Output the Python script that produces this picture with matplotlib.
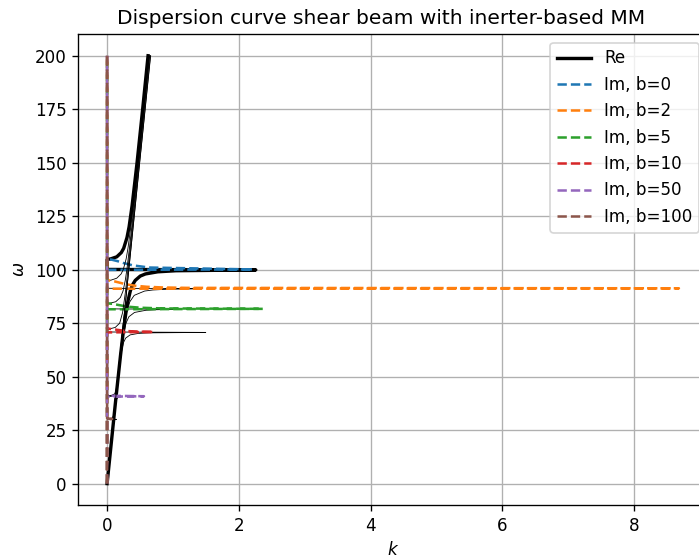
import matplotlib
matplotlib.use('Agg')
import matplotlib.pyplot as plt

# inerter values
b_vals = [0, 2, 5, 10, 50, 100]

# b = 0  (frequency, Re k, Im k)
w_b0 = [0, 20, 40, 60, 70, 80, 85, 90, 93, 95, 97, 98, 99, 99.5, 99.9, 100.1, 101, 102, 103, 104, 104.7,
        104.9, 105, 106, 108, 110, 115, 120, 130, 150, 175, 200]
re_b0 = [0, 0.067, 0.134, 0.204, 0.242, 0.286, 0.314, 0.352, 0.388, 0.428, 0.503, 0.582, 0.769, 1.045, 2.257,
         0, 0, 0, 0, 0, 0, 0.024, 0.052, 0.147, 0.216, 0.252, 0.302, 0.334, 0.380, 0.455, 0.540, 0.622]
im_b0 = [0] * 15 + [2.215, 0.637, 0.392, 0.261, 0.156, 0.065] + [0] * 11

# b = 2
w_b2 = [0, 20, 40, 60, 70, 80, 85, 88, 90, 90.5, 90.89, 91.09, 91.29, 91.49, 91.69, 92, 92.5, 93, 93.5, 94,
        94.5, 94.8, 95.1, 96, 98, 100, 105, 110, 120, 130, 150, 175, 200]
re_b2 = [0, 0.067, 0.134, 0.205, 0.244, 0.297, 0.345, 0.412, 0.569, 0.693, 0.938, 1.302] + [0] * 10 + \
        [0.059, 0.146, 0.213, 0.245, 0.289, 0.317, 0.360, 0.398, 0.467, 0.549, 0.631]
im_b2 = [0] * 12 + [8.68, 1.213, 0.838, 0.603, 0.424, 0.320, 0.244, 0.180, 0.115, 0.064] + [0] * 11

# b = 5
w_b5 = [0, 20, 40, 60, 70, 75, 78, 80, 81, 81.28, 81.48, 81.68, 81.88, 82.2, 82.6, 83, 83.5, 84, 84.28, 85,
        87, 90, 95, 100, 110, 120, 130, 150, 175, 200]
re_b5 = [0, 0.067, 0.134, 0.206, 0.251, 0.287, 0.331, 0.416, 0.586, 0.747, 1.070] + [0] * 7 + \
        [0.034, 0.131, 0.202, 0.242, 0.276, 0.300, 0.339, 0.375, 0.409, 0.476, 0.558, 0.639]
im_b5 = [0] * 11 + [2.363, 0.846, 0.513, 0.352, 0.258, 0.171, 0.087] + [0] * 12

# b = 10
w_b10 = [0, 20, 40, 55, 62, 66, 68, 69.5, 70.2, 70.47, 70.67, 70.87, 71.07, 71.27, 71.6, 72, 72.3, 72.47, 73,
         75, 80, 90, 100, 110, 120, 150, 175, 200]
re_b10 = [0, 0.067, 0.134, 0.189, 0.221, 0.250, 0.282, 0.349, 0.472, 0.647, 1.498] + [0] * 6 + \
         [0.056, 0.124, 0.191, 0.236, 0.280, 0.316, 0.350, 0.384, 0.483, 0.564, 0.646]
im_b10 = [0] * 11 + [0.707, 0.441, 0.326, 0.218, 0.127, 0.051] + [0] * 11

# b = 50
w_b50 = [0, 10, 20, 30, 35, 38, 39.5, 40.24, 40.44, 40.64, 40.84, 41.04, 41.24, 42, 44, 46, 50, 60, 80, 100,
         125, 150, 175, 200]
re_b50 = [0, 0.033, 0.067, 0.100, 0.119, 0.132, 0.145, 0.164, 0.180, 0.220, 0, 0,
          0.068, 0.119, 0.138, 0.147, 0.162, 0.196, 0.263, 0.329, 0.411, 0.493, 0.576, 0.658]
im_b50 = [0] * 10 + [0.56, 0.091] + [0] * 12

# b = 100
w_b100 = [0, 10, 20, 25, 28, 29.43, 29.83, 30.03, 30.23, 30.43, 32, 35, 40, 50, 70, 100, 150, 200]
re_b100 = [0, 0.033, 0.067, 0.084, 0.095, 0.105, 0.116, 0.142, 0, 0.075, 0.102, 0.114, 0.131, 0.165, 0.231,
           0.330, 0.495, 0.661]
im_b100 = [0] * 8 + [0.077] + [0] * 9

curves = [(w_b0, re_b0, im_b0), (w_b2, re_b2, im_b2), (w_b5, re_b5, im_b5),
          (w_b10, re_b10, im_b10), (w_b50, re_b50, im_b50), (w_b100, re_b100, im_b100)]

dpi = 121
fig = plt.figure(figsize=(699 / dpi, 559 / dpi), dpi=dpi)
ax = fig.add_axes([0.1123, 0.0966, 0.8999, 0.842])

for i, (b, (w, re, im)) in enumerate(zip(b_vals, curves)):
    if i == 0:
        ax.plot(re, w, color='k', lw=2, label='Re')
    else:
        ax.plot(re, w, color='k', lw=0.5)
    ax.plot(im, w, '--', color=f'C{i}', lw=1.5, label=f'Im, b={b}')

ax.set_title('Dispersion curve shear beam with inerter-based MM', x=0.481)
ax.set_xlabel('$k$')
ax.set_ylabel(r'$\omega$')
ax.grid(True)
ax.legend(loc='upper right')

fig.savefig('out.png', dpi=dpi)
